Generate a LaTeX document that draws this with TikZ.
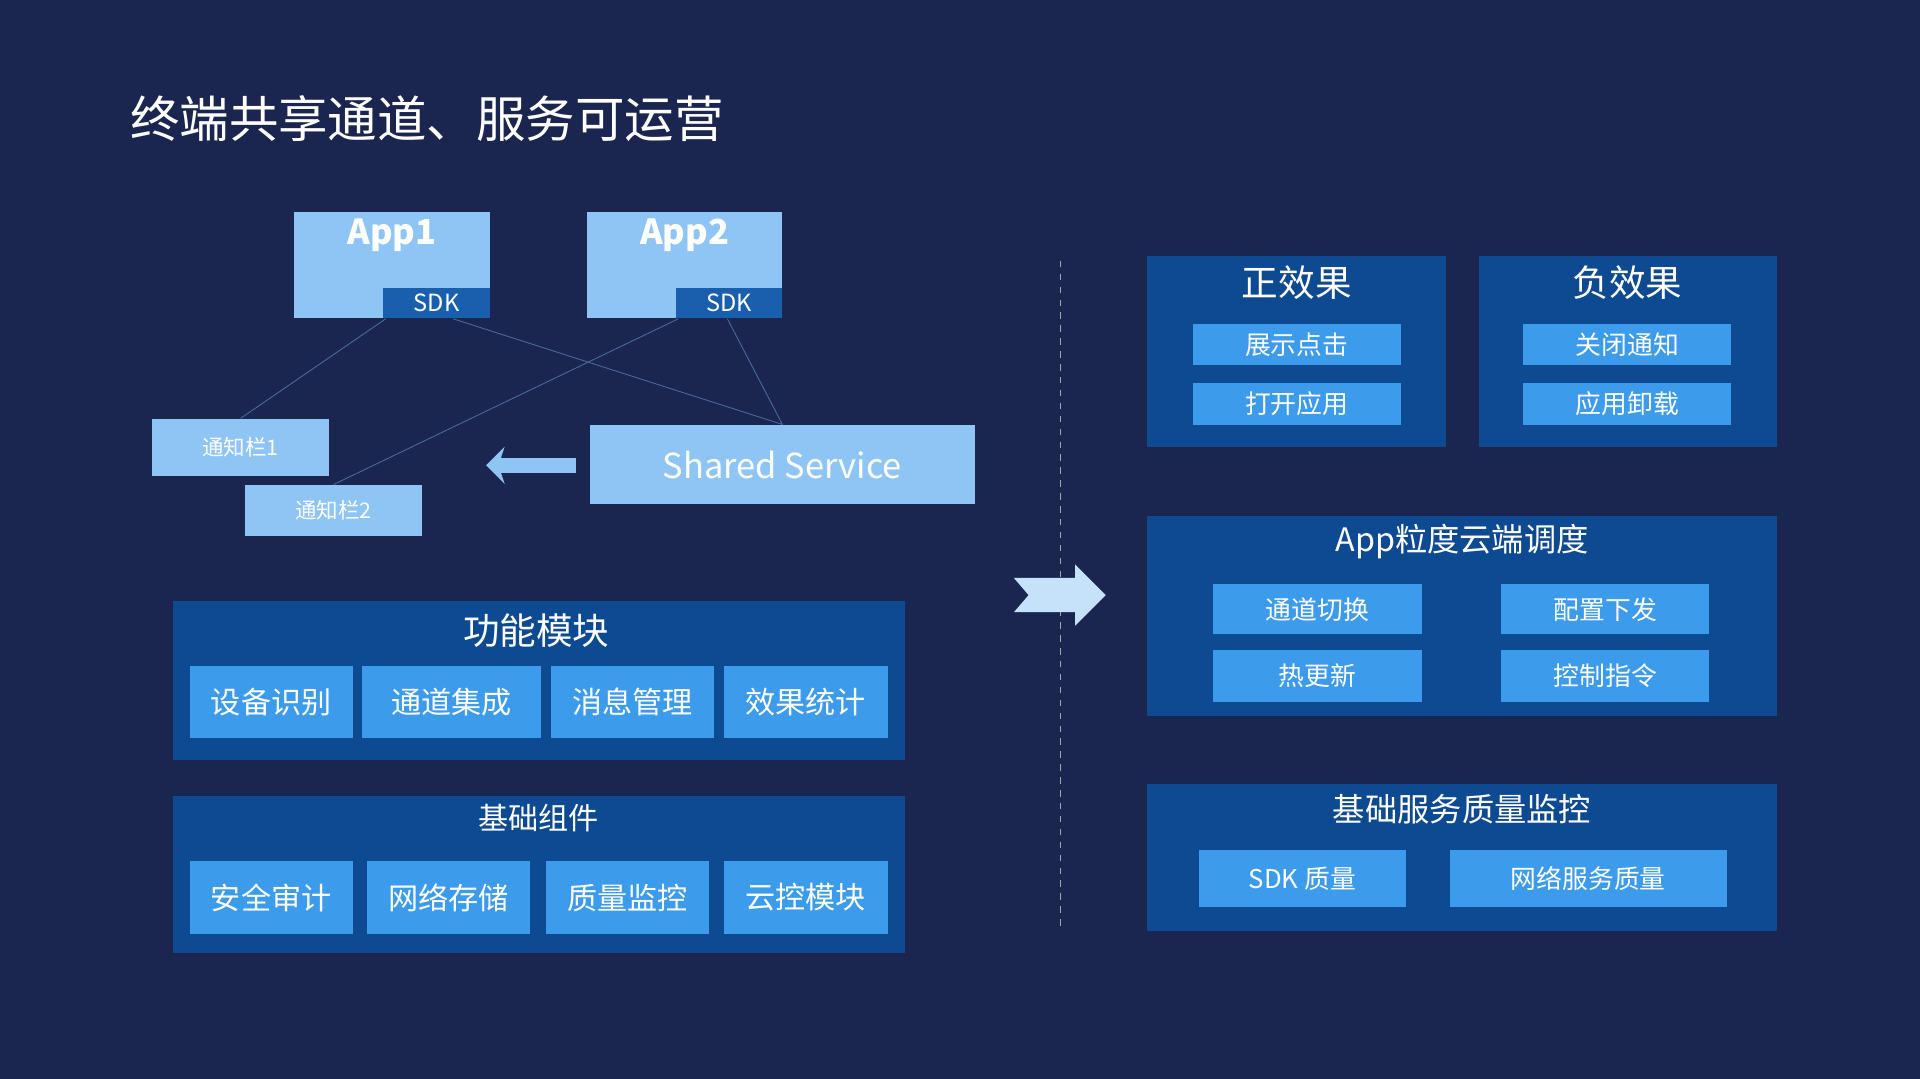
\documentclass[tikz,border=0pt]{standalone}
\usepackage{fontspec}
\setmainfont{Noto Sans CJK SC}
\usetikzlibrary{positioning,arrows.meta}
\definecolor{bgnavy}{HTML}{1B2650}
\definecolor{panelblue}{HTML}{0E4A92}
\definecolor{btnblue}{HTML}{3C9BEA}
\definecolor{paleblue}{HTML}{8EC5F5}
\definecolor{sdkblue}{HTML}{1A5FAE}
\definecolor{linkgray}{HTML}{4A6A9A}
\tikzset{
  panel/.style={fill=panelblue, draw=none, inner sep=0pt},
  btn/.style={fill=btnblue, text=white, draw=none, inner sep=0pt, font=\fontsize{14}{16}\selectfont},
  sbtn/.style={btn, font=\fontsize{12}{14}\selectfont},
  pale/.style={fill=paleblue, text=white, draw=none, inner sep=0pt},
  ptitle/.style={text=white, font=\fontsize{17}{20}\selectfont},
  link/.style={linkgray, thin}
}
% box from corner (x1,y1) to (x2,y2), in reference pixels
\newcommand{\blk}[7]{\node[#6, minimum width={(#4-#2)*0.02cm}, minimum height={(#5-#3)*0.02cm}] (#1) at ({(#2+#4)/2},{(#3+#5)/2}) {#7};}
\begin{document}
\begin{tikzpicture}[x=0.02cm,y=-0.02cm]
  \fill[bgnavy] (0,0) rectangle (1568,881);
  \useasboundingbox (0,0) rectangle (1568,881);
  \node[anchor=west, text=white, font=\fontsize{23}{27}\selectfont] (title) at (100,97) {终端共享通道、服务可运营};

  % apps
  \blk{app1}{240}{173}{400}{260}{pale}{}
  \blk{app2}{479}{173}{639}{260}{pale}{}
  \node[text=white, font=\bfseries\fontsize{16}{18}\selectfont] (app1t) at (320,192) {App1};
  \node[text=white, font=\bfseries\fontsize{16}{18}\selectfont] (app2t) at (559,192) {App2};
  \blk{sdk1}{313}{235}{400}{260}{fill=sdkblue, text=white, inner sep=0pt, font=\fontsize{11}{13}\selectfont}{SDK}
  \blk{sdk2}{552}{235}{639}{260}{fill=sdkblue, text=white, inner sep=0pt, font=\fontsize{11}{13}\selectfont}{SDK}
  \blk{bar1}{124}{342}{269}{389}{pale, font=\fontsize{10}{12}\selectfont}{通知栏1}
  \blk{bar2}{200}{396}{345}{438}{pale, font=\fontsize{10}{12}\selectfont}{通知栏2}
  \blk{shared}{482}{347}{796}{412}{pale, font=\fontsize{16}{18}\selectfont}{Shared Service}
  \draw[link] (app1.south) ++(-5,0) coordinate (a1l) -- (bar1.north);
  \draw[link] (app1.south) ++(50,0) coordinate (a1r) -- (shared.north);
  \draw[link] (app2.south) ++(-5,0) coordinate (a2l) -- (bar2.north);
  \draw[link] (app2.south) ++(35,0) coordinate (a2r) -- (shared.north);
  \coordinate (arrs) at (470,380);
  \coordinate (arre) at (397,380);
  \draw[paleblue, line width=2.4mm, -{Stealth[length=3mm,width=6mm]}] (arrs) -- (arre);

  % left panels
  \blk{func}{141}{491}{739}{621}{panel}{}
  \node[ptitle] (funct) at (438,515) {功能模块};
  \blk{f1}{155}{544}{288}{603}{btn}{设备识别}
  \blk{f2}{296}{544}{442}{603}{btn}{通道集成}
  \blk{f3}{450}{544}{583}{603}{btn}{消息管理}
  \blk{f4}{591}{544}{725}{603}{btn}{效果统计}
  \blk{base}{141}{650}{739}{778}{panel}{}
  \node[ptitle, font=\fontsize{14}{16}\selectfont] (baset) at (440,668) {基础组件};
  \blk{b1}{155}{703}{288}{763}{btn}{安全审计}
  \blk{b2}{300}{703}{433}{763}{btn}{网络存储}
  \blk{b3}{446}{703}{579}{763}{btn}{质量监控}
  \blk{b4}{591}{703}{725}{763}{btn}{云控模块}

  % divider and arrow
  \draw[gray!70, dashed, thin] (866,213) -- (866,760);
  \fill[paleblue!50!white] (828,472) -- (878,472) -- (878,461) -- (903,486) -- (878,511) -- (878,500) -- (828,500) -- (840,486) -- cycle;

  % right panels
  \blk{pos}{937}{209}{1181}{365}{panel}{}
  \node[ptitle] (post) at (1059,231) {正效果};
  \blk{p1}{974}{265}{1144}{298}{sbtn}{展示点击}
  \blk{p2}{974}{313}{1144}{347}{sbtn}{打开应用}
  \blk{neg}{1208}{209}{1451}{365}{panel}{}
  \node[ptitle] (negt) at (1329,231) {负效果};
  \blk{n1}{1244}{265}{1414}{298}{sbtn}{关闭通知}
  \blk{n2}{1244}{313}{1414}{347}{sbtn}{应用卸载}
  \blk{sched}{937}{421}{1451}{585}{panel}{}
  \node[ptitle, font=\fontsize{15}{18}\selectfont] (schedt) at (1194,442) {App粒度云端调度};
  \blk{s1}{991}{477}{1161}{518}{sbtn}{通道切换}
  \blk{s2}{1226}{477}{1396}{518}{sbtn}{配置下发}
  \blk{s3}{991}{531}{1161}{573}{sbtn}{热更新}
  \blk{s4}{1226}{531}{1396}{573}{sbtn}{控制指令}
  \blk{qual}{937}{640}{1451}{760}{panel}{}
  \node[ptitle, font=\fontsize{15}{18}\selectfont] (qualt) at (1194,661) {基础服务质量监控};
  \blk{q1}{979}{694}{1148}{741}{sbtn}{SDK 质量}
  \blk{q2}{1184}{694}{1410}{741}{sbtn}{网络服务质量}
\end{tikzpicture}
\end{document}
